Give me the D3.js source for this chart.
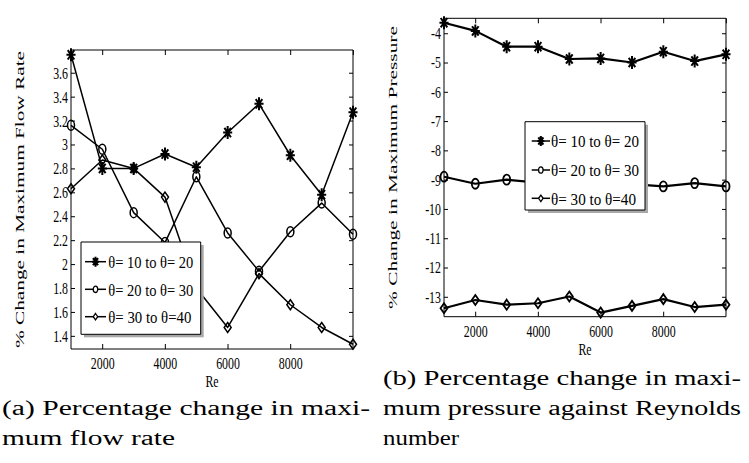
<!DOCTYPE html>
<html>
<head>
<meta charset="utf-8">
<script src="https://cdn.jsdelivr.net/npm/d3@7"></script>
<style>
  body { margin: 0; background: #fff; }
  svg { display: block; }
  text { font-family: "Liberation Serif", "DejaVu Serif", serif; fill: #000; }
</style>
</head>
<body>
<svg id="fig" width="749" height="463"></svg>
<script>
// Data
const reynolds = [1000, 2000, 3000, 4000, 5000, 6000, 7000, 8000, 9000, 10000];

const flow10to20 = [3.75, 2.80, 2.80, 2.92, 2.81, 3.10, 3.34, 2.91, 2.58, 3.27];
const flow20to30 = [3.16, 2.96, 2.43, 2.18, 2.73, 2.26, 1.94, 2.27, 2.51, 2.25];
const flow30to40 = [2.63, 2.87, 2.80, 2.56, 1.80, 1.47, 1.92, 1.66, 1.47, 1.33];

const pressure10to20 = [-3.64, -3.92, -4.46, -4.46, -4.88, -4.86, -5.00, -4.63, -4.95, -4.72];
const pressure20to30 = [-8.90, -9.14, -9.00, -9.10, -9.05, -9.10, -9.15, -9.23, -9.12, -9.23];
const pressure30to40 = [-13.39, -13.11, -13.27, -13.22, -12.99, -13.54, -13.31, -13.08, -13.35, -13.27];

const seriesNames = ['θ= 10 to θ= 20', 'θ= 20 to θ= 30', 'θ= 30 to θ=40'];
const markerTypes = ['asterisk', 'circle', 'diamond'];

const reTicks = [2000, 4000, 6000, 8000];
const flowTicks = [1.4, 1.6, 1.8, 2, 2.2, 2.4, 2.6, 2.8, 3, 3.2, 3.4, 3.6];
const pressureTicks = [-13, -12, -11, -10, -9, -8, -7, -6, -5, -4];

const captionsA = ['(a) Percentage change in maxi-', 'mum flow rate'];
const captionsB = ['(b) Percentage change in maxi-', 'mum pressure against Reynolds', 'number'];

// The original figure is squeezed horizontally, so everything is drawn in a scaled group
const SX = 0.7;
const ux = px => px / SX;
const FONT = '"Liberation Serif", "DejaVu Serif", serif';

const svg = d3.select('#fig');
const root = svg.append('g').attr('transform', `scale(${SX},1)`);

function markerPath(type, r) {
  if (type === 'circle') {
    return `M${-r},0a${r},${r} 0 1,0 ${2 * r},0a${r},${r} 0 1,0 ${-2 * r},0`;
  }
  if (type === 'diamond') {
    return `M0,${-r}L${r},0L0,${r}L${-r},0Z`;
  }
  const d = r * 0.72;
  return `M0,${-r}V${r}M${-r},0H${r}M${-d},${-d}L${d},${d}M${-d},${d}L${d},${-d}`;
}

function styleAxis(sel) {
  sel.select('.domain').remove();
  sel.selectAll('line').attr('stroke', '#000').attr('vector-effect', 'non-scaling-stroke');
  sel.selectAll('text')
    .attr('font-size', 17)
    .attr('font-family', FONT)
    .attr('fill', '#000');
}

/**************************************************************
 * drawPanel - one plot with its box, ticks, lines and legend
 **************************************************************/
function drawPanel(cfg) {
  const x = d3.scaleLinear().domain([1000, 10000]).range([ux(cfg.left), ux(cfg.right)]);
  const y = d3.scaleLinear().domain(cfg.yDomain).range([cfg.bottom, cfg.top]);
  const g = root.append('g');

  // Ticks point inwards on all four sides
  g.append('g')
    .attr('transform', `translate(0,${cfg.bottom})`)
    .call(d3.axisBottom(x).tickValues(reTicks).tickSizeInner(-5).tickSizeOuter(0)
      .tickPadding(8).tickFormat(d3.format('d')))
    .call(styleAxis);
  g.append('g')
    .attr('transform', `translate(0,${cfg.top})`)
    .call(d3.axisTop(x).tickValues(reTicks.concat([10000])).tickSizeInner(-5).tickSizeOuter(0).tickFormat(''))
    .call(styleAxis);
  g.append('g')
    .attr('transform', `translate(${ux(cfg.left)},0)`)
    .call(d3.axisLeft(y).tickValues(cfg.yTicks).tickSizeInner(-ux(4)).tickSizeOuter(0)
      .tickPadding(ux(3)).tickFormat(cfg.yFormat))
    .call(styleAxis);
  g.append('g')
    .attr('transform', `translate(${ux(cfg.right)},0)`)
    .call(d3.axisRight(y).tickValues(cfg.yTicks).tickSizeInner(-ux(4)).tickSizeOuter(0).tickFormat(''))
    .call(styleAxis);

  g.append('rect')
    .attr('x', x.range()[0]).attr('y', cfg.top)
    .attr('width', x.range()[1] - x.range()[0]).attr('height', cfg.bottom - cfg.top)
    .attr('fill', 'none').attr('stroke', '#000').attr('stroke-width', 1)
    .attr('vector-effect', 'non-scaling-stroke');

  // Axis labels
  g.append('text')
    .attr('x', (x.range()[0] + x.range()[1]) / 2)
    .attr('y', cfg.reY)
    .attr('text-anchor', 'middle')
    .attr('font-size', 17)
    .text('Re');
  g.append('text')
    .attr('transform', `translate(${ux(cfg.yLabelX)},${(cfg.top + cfg.bottom) / 2}) rotate(-90)`)
    .attr('text-anchor', 'middle')
    .attr('font-size', 17)
    .attr('textLength', cfg.yLabelLen)
    .attr('lengthAdjust', 'spacingAndGlyphs')
    .text(cfg.yLabel);

  // Lines and markers
  const line = d3.line()
    .x((d, i) => x(reynolds[i]))
    .y(d => y(d));

  cfg.series.forEach((values, k) => {
    g.append('path')
      .datum(values)
      .attr('d', line)
      .attr('fill', 'none')
      .attr('stroke', '#000')
      .attr('stroke-width', cfg.lineWidth)
      .attr('stroke-linejoin', 'round')
      .attr('vector-effect', 'non-scaling-stroke');
    g.append('g').selectAll('path')
      .data(values)
      .enter()
      .append('path')
      .attr('transform', (d, i) => `translate(${x(reynolds[i])},${y(d)})`)
      .attr('d', markerPath(markerTypes[k], markerTypes[k] === 'asterisk' ? 6.5 : 5))
      .attr('fill', 'none')
      .attr('stroke', '#000')
      .attr('stroke-width', markerTypes[k] === 'asterisk' ? 2 : cfg.markerWidth)
      .attr('vector-effect', 'non-scaling-stroke');
  });

  // Legend box with a grey drop shadow
  const L = cfg.legend;
  const lg = g.append('g');
  lg.append('rect')
    .attr('x', ux(L.left + 3)).attr('y', L.top + 3)
    .attr('width', ux(L.right - L.left)).attr('height', L.bottom - L.top)
    .attr('fill', '#a8a8a8');
  lg.append('rect')
    .attr('x', ux(L.left)).attr('y', L.top)
    .attr('width', ux(L.right - L.left)).attr('height', L.bottom - L.top)
    .attr('fill', '#fff').attr('stroke', '#000').attr('stroke-width', 1)
    .attr('vector-effect', 'non-scaling-stroke');

  seriesNames.forEach((name, k) => {
    const ry = L.rows[k];
    lg.append('line')
      .attr('x1', ux(L.sample0)).attr('x2', ux(L.sample1))
      .attr('y1', ry).attr('y2', ry)
      .attr('stroke', '#000').attr('stroke-width', 1.5)
      .attr('vector-effect', 'non-scaling-stroke');
    lg.append('path')
      .attr('transform', `translate(${ux((L.sample0 + L.sample1) / 2)},${ry})`)
      .attr('d', markerPath(markerTypes[k], markerTypes[k] === 'asterisk' ? 5 : 3.2))
      .attr('fill', '#fff')
      .attr('stroke', '#000')
      .attr('stroke-width', markerTypes[k] === 'asterisk' ? 2 : 1.3)
      .attr('vector-effect', 'non-scaling-stroke');
    lg.append('text')
      .attr('x', ux(L.textX)).attr('y', ry)
      .attr('dy', '0.36em')
      .attr('font-size', 17.5)
      .attr('textLength', ux(L.textLen[k]))
      .attr('lengthAdjust', 'spacingAndGlyphs')
      .text(name);
  });
}

drawPanel({
  left: 71, right: 353, top: 50, bottom: 349,
  yDomain: [1.29, 3.79], yTicks: flowTicks,
  yFormat: d => String(+d.toFixed(1)),
  series: [flow10to20, flow20to30, flow30to40],
  lineWidth: 1.5, markerWidth: 1.5,
  reY: 387,
  yLabel: '% Change in Maximum Flow Rate', yLabelX: 24, yLabelLen: 297,
  legend: {
    left: 81, right: 200.7, top: 242, bottom: 334.3,
    rows: [261.7, 289.3, 316.7],
    sample0: 85, sample1: 106, textX: 108.3, textLen: [85, 85, 83]
  }
});

drawPanel({
  left: 444, right: 726, top: 18.3, bottom: 316.7,
  yDomain: [-13.68, -3.49], yTicks: pressureTicks,
  yFormat: d => String(d).replace('\u2212', '-'),
  series: [pressure10to20, pressure20to30, pressure30to40],
  lineWidth: 2.2, markerWidth: 1.8,
  reY: 355,
  yLabel: '% Change in Maximum Pressure', yLabelX: 397, yLabelLen: 283,
  legend: {
    left: 525, right: 645, top: 121.7, bottom: 210,
    rows: [141, 170, 198.3],
    sample0: 531.7, sample1: 550, textX: 551, textLen: [88, 88, 85]
  }
});

// Sub-figure captions (not squeezed)
const cap = svg.append('g').attr('font-size', 20);
cap.append('text').attr('x', 2).attr('y', 415).attr('textLength', 368).attr('lengthAdjust', 'spacingAndGlyphs').text(captionsA[0]);
cap.append('text').attr('x', 2).attr('y', 445).attr('textLength', 173).attr('lengthAdjust', 'spacingAndGlyphs').text(captionsA[1]);
cap.append('text').attr('x', 383).attr('y', 385).attr('textLength', 358).attr('lengthAdjust', 'spacingAndGlyphs').text(captionsB[0]);
cap.append('text').attr('x', 383).attr('y', 415).attr('textLength', 358).attr('lengthAdjust', 'spacingAndGlyphs').text(captionsB[1]);
cap.append('text').attr('x', 383).attr('y', 445).attr('textLength', 76).attr('lengthAdjust', 'spacingAndGlyphs').text(captionsB[2]);
</script>
</body>
</html>
